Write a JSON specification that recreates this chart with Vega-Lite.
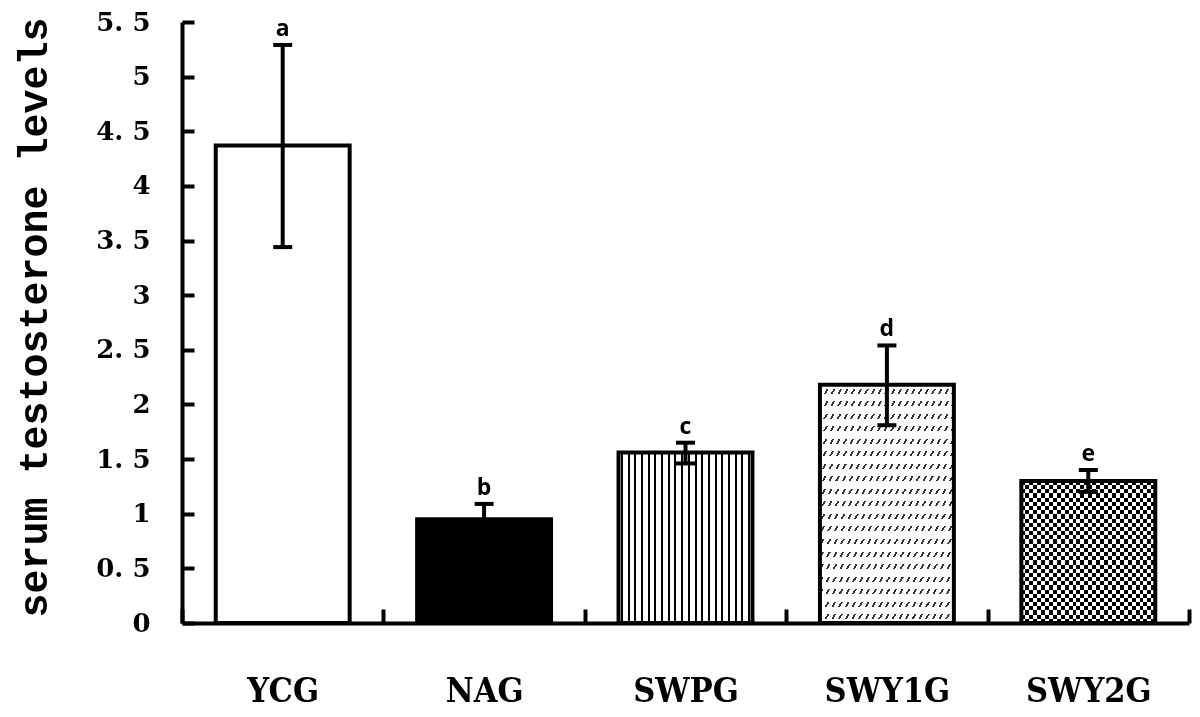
{
  "$schema": "https://vega.github.io/schema/vega-lite/v6.json",
  "width": 1007,
  "height": 601,
  "autosize": "none",
  "padding": {"left": 182, "top": 22, "right": 11, "bottom": 94},
  "background": "#ffffff",
  "config": {"view": {"stroke": null}},
  "data": {"values": [
    {"g": "YCG", "mean": 4.37, "lo": 3.44, "hi": 5.29, "lab": "a"},
    {"g": "NAG", "mean": 0.95, "lo": 0.81, "hi": 1.09, "lab": "b"},
    {"g": "SWPG", "mean": 1.56, "lo": 1.46, "hi": 1.65, "lab": "c"},
    {"g": "SWY1G", "mean": 2.18, "lo": 1.81, "hi": 2.54, "lab": "d"},
    {"g": "SWY2G", "mean": 1.30, "lo": 1.20, "hi": 1.40, "lab": "e"}
  ]},
  "encoding": {
    "x": {
      "field": "g", "type": "nominal", "sort": null,
      "scale": {"paddingInner": 0, "paddingOuter": 0},
      "axis": {
        "title": null, "grid": false, "labelAngle": 0,
        "domainColor": "#000", "domainWidth": 4,
        "tickColor": "#000", "tickWidth": 4, "tickSize": -14, "tickBand": "extent",
        "labelFont": "DejaVu Serif Condensed, Liberation Serif", "labelFontSize": 34, "labelFontWeight": "bold",
        "labelColor": "#000", "labelBaseline": "alphabetic", "labelPadding": 92
      }
    },
    "y": {
      "field": "mean", "type": "quantitative", "title": "serum testosterone levels",
      "scale": {"domain": [0, 5.5], "nice": false, "zero": true},
      "axis": {
        "titleFont": "Liberation Mono", "titleFontSize": 40, "titleFontWeight": "bold", "titleColor": "#000",
        "titleX": -136, "titleY": 295, "titleAngle": -90, "titleAlign": "center", "titleBaseline": "alphabetic",
        "grid": false,
        "values": [0, 0.5, 1, 1.5, 2, 2.5, 3, 3.5, 4, 4.5, 5, 5.5],
        "labelExpr": "replace(toString(datum.value), '.', '. ')",
        "labelFont": "DejaVu Serif", "labelFontSize": 26, "labelFontWeight": "bold", "labelColor": "#000",
        "labelPadding": 44, "labelBaseline": "middle",
        "domainColor": "#000", "domainWidth": 4,
        "tickColor": "#000", "tickWidth": 4, "tickSize": -12
      }
    }
  },
  "layer": [
    {
      "mark": {"type": "bar", "width": {"band": 0.665}},
      "encoding": {
        "fill": {"condition": {"test": "datum.g === 'NAG'", "value": "#000000"}, "value": "#ffffff"}
      }
    },
    {
      "transform": [{"filter": "datum.g === 'SWPG'"}],
      "mark": {"type": "bar", "width": {"band": 0.665}, "fill": {"gradient": "linear", "x1": 0, "y1": 0, "x2": 1, "y2": 0, "stops": [
        {"offset": 0, "color": "#fff"},
        {"offset": 0.0175, "color": "#fff"}, {"offset": 0.0175, "color": "#000"}, {"offset": 0.0325, "color": "#000"}, {"offset": 0.0325, "color": "#fff"},
        {"offset": 0.0675, "color": "#fff"}, {"offset": 0.0675, "color": "#000"}, {"offset": 0.0825, "color": "#000"}, {"offset": 0.0825, "color": "#fff"},
        {"offset": 0.1175, "color": "#fff"}, {"offset": 0.1175, "color": "#000"}, {"offset": 0.1325, "color": "#000"}, {"offset": 0.1325, "color": "#fff"},
        {"offset": 0.1675, "color": "#fff"}, {"offset": 0.1675, "color": "#000"}, {"offset": 0.1825, "color": "#000"}, {"offset": 0.1825, "color": "#fff"},
        {"offset": 0.2175, "color": "#fff"}, {"offset": 0.2175, "color": "#000"}, {"offset": 0.2325, "color": "#000"}, {"offset": 0.2325, "color": "#fff"},
        {"offset": 0.2675, "color": "#fff"}, {"offset": 0.2675, "color": "#000"}, {"offset": 0.2825, "color": "#000"}, {"offset": 0.2825, "color": "#fff"},
        {"offset": 0.3175, "color": "#fff"}, {"offset": 0.3175, "color": "#000"}, {"offset": 0.3325, "color": "#000"}, {"offset": 0.3325, "color": "#fff"},
        {"offset": 0.3675, "color": "#fff"}, {"offset": 0.3675, "color": "#000"}, {"offset": 0.3825, "color": "#000"}, {"offset": 0.3825, "color": "#fff"},
        {"offset": 0.4175, "color": "#fff"}, {"offset": 0.4175, "color": "#000"}, {"offset": 0.4325, "color": "#000"}, {"offset": 0.4325, "color": "#fff"},
        {"offset": 0.4675, "color": "#fff"}, {"offset": 0.4675, "color": "#000"}, {"offset": 0.4825, "color": "#000"}, {"offset": 0.4825, "color": "#fff"},
        {"offset": 0.5175, "color": "#fff"}, {"offset": 0.5175, "color": "#000"}, {"offset": 0.5325, "color": "#000"}, {"offset": 0.5325, "color": "#fff"},
        {"offset": 0.5675, "color": "#fff"}, {"offset": 0.5675, "color": "#000"}, {"offset": 0.5825, "color": "#000"}, {"offset": 0.5825, "color": "#fff"},
        {"offset": 0.6175, "color": "#fff"}, {"offset": 0.6175, "color": "#000"}, {"offset": 0.6325, "color": "#000"}, {"offset": 0.6325, "color": "#fff"},
        {"offset": 0.6675, "color": "#fff"}, {"offset": 0.6675, "color": "#000"}, {"offset": 0.6825, "color": "#000"}, {"offset": 0.6825, "color": "#fff"},
        {"offset": 0.7175, "color": "#fff"}, {"offset": 0.7175, "color": "#000"}, {"offset": 0.7325, "color": "#000"}, {"offset": 0.7325, "color": "#fff"},
        {"offset": 0.7675, "color": "#fff"}, {"offset": 0.7675, "color": "#000"}, {"offset": 0.7825, "color": "#000"}, {"offset": 0.7825, "color": "#fff"},
        {"offset": 0.8175, "color": "#fff"}, {"offset": 0.8175, "color": "#000"}, {"offset": 0.8325, "color": "#000"}, {"offset": 0.8325, "color": "#fff"},
        {"offset": 0.8675, "color": "#fff"}, {"offset": 0.8675, "color": "#000"}, {"offset": 0.8825, "color": "#000"}, {"offset": 0.8825, "color": "#fff"},
        {"offset": 0.9175, "color": "#fff"}, {"offset": 0.9175, "color": "#000"}, {"offset": 0.9325, "color": "#000"}, {"offset": 0.9325, "color": "#fff"},
        {"offset": 0.9675, "color": "#fff"}, {"offset": 0.9675, "color": "#000"}, {"offset": 0.9825, "color": "#000"}, {"offset": 0.9825, "color": "#fff"},
        {"offset": 1, "color": "#fff"}
      ]}},
      "encoding": {}
    },
    {
      "transform": [{"filter": "datum.g === 'SWY1G'"}],
      "mark": {"type": "bar", "width": {"band": 0.665}, "fill": {"gradient": "linear", "x1": 0, "y1": 0, "x2": 1, "y2": 1, "stops": [
        {"offset": 0, "color": "#fff"},
        {"offset": 0.009, "color": "#fff"}, {"offset": 0.009, "color": "#333"}, {"offset": 0.0165, "color": "#333"}, {"offset": 0.0165, "color": "#fff"},
        {"offset": 0.034, "color": "#fff"}, {"offset": 0.034, "color": "#333"}, {"offset": 0.0415, "color": "#333"}, {"offset": 0.0415, "color": "#fff"},
        {"offset": 0.059, "color": "#fff"}, {"offset": 0.059, "color": "#333"}, {"offset": 0.0665, "color": "#333"}, {"offset": 0.0665, "color": "#fff"},
        {"offset": 0.084, "color": "#fff"}, {"offset": 0.084, "color": "#333"}, {"offset": 0.0915, "color": "#333"}, {"offset": 0.0915, "color": "#fff"},
        {"offset": 0.109, "color": "#fff"}, {"offset": 0.109, "color": "#333"}, {"offset": 0.1165, "color": "#333"}, {"offset": 0.1165, "color": "#fff"},
        {"offset": 0.134, "color": "#fff"}, {"offset": 0.134, "color": "#333"}, {"offset": 0.1415, "color": "#333"}, {"offset": 0.1415, "color": "#fff"},
        {"offset": 0.159, "color": "#fff"}, {"offset": 0.159, "color": "#333"}, {"offset": 0.1665, "color": "#333"}, {"offset": 0.1665, "color": "#fff"},
        {"offset": 0.184, "color": "#fff"}, {"offset": 0.184, "color": "#333"}, {"offset": 0.1915, "color": "#333"}, {"offset": 0.1915, "color": "#fff"},
        {"offset": 0.209, "color": "#fff"}, {"offset": 0.209, "color": "#333"}, {"offset": 0.2165, "color": "#333"}, {"offset": 0.2165, "color": "#fff"},
        {"offset": 0.234, "color": "#fff"}, {"offset": 0.234, "color": "#333"}, {"offset": 0.2415, "color": "#333"}, {"offset": 0.2415, "color": "#fff"},
        {"offset": 0.259, "color": "#fff"}, {"offset": 0.259, "color": "#333"}, {"offset": 0.2665, "color": "#333"}, {"offset": 0.2665, "color": "#fff"},
        {"offset": 0.284, "color": "#fff"}, {"offset": 0.284, "color": "#333"}, {"offset": 0.2915, "color": "#333"}, {"offset": 0.2915, "color": "#fff"},
        {"offset": 0.309, "color": "#fff"}, {"offset": 0.309, "color": "#333"}, {"offset": 0.3165, "color": "#333"}, {"offset": 0.3165, "color": "#fff"},
        {"offset": 0.334, "color": "#fff"}, {"offset": 0.334, "color": "#333"}, {"offset": 0.3415, "color": "#333"}, {"offset": 0.3415, "color": "#fff"},
        {"offset": 0.359, "color": "#fff"}, {"offset": 0.359, "color": "#333"}, {"offset": 0.3665, "color": "#333"}, {"offset": 0.3665, "color": "#fff"},
        {"offset": 0.384, "color": "#fff"}, {"offset": 0.384, "color": "#333"}, {"offset": 0.3915, "color": "#333"}, {"offset": 0.3915, "color": "#fff"},
        {"offset": 0.409, "color": "#fff"}, {"offset": 0.409, "color": "#333"}, {"offset": 0.4165, "color": "#333"}, {"offset": 0.4165, "color": "#fff"},
        {"offset": 0.434, "color": "#fff"}, {"offset": 0.434, "color": "#333"}, {"offset": 0.4415, "color": "#333"}, {"offset": 0.4415, "color": "#fff"},
        {"offset": 0.459, "color": "#fff"}, {"offset": 0.459, "color": "#333"}, {"offset": 0.4665, "color": "#333"}, {"offset": 0.4665, "color": "#fff"},
        {"offset": 0.484, "color": "#fff"}, {"offset": 0.484, "color": "#333"}, {"offset": 0.4915, "color": "#333"}, {"offset": 0.4915, "color": "#fff"},
        {"offset": 0.509, "color": "#fff"}, {"offset": 0.509, "color": "#333"}, {"offset": 0.5165, "color": "#333"}, {"offset": 0.5165, "color": "#fff"},
        {"offset": 0.534, "color": "#fff"}, {"offset": 0.534, "color": "#333"}, {"offset": 0.5415, "color": "#333"}, {"offset": 0.5415, "color": "#fff"},
        {"offset": 0.559, "color": "#fff"}, {"offset": 0.559, "color": "#333"}, {"offset": 0.5665, "color": "#333"}, {"offset": 0.5665, "color": "#fff"},
        {"offset": 0.584, "color": "#fff"}, {"offset": 0.584, "color": "#333"}, {"offset": 0.5915, "color": "#333"}, {"offset": 0.5915, "color": "#fff"},
        {"offset": 0.609, "color": "#fff"}, {"offset": 0.609, "color": "#333"}, {"offset": 0.6165, "color": "#333"}, {"offset": 0.6165, "color": "#fff"},
        {"offset": 0.634, "color": "#fff"}, {"offset": 0.634, "color": "#333"}, {"offset": 0.6415, "color": "#333"}, {"offset": 0.6415, "color": "#fff"},
        {"offset": 0.659, "color": "#fff"}, {"offset": 0.659, "color": "#333"}, {"offset": 0.6665, "color": "#333"}, {"offset": 0.6665, "color": "#fff"},
        {"offset": 0.684, "color": "#fff"}, {"offset": 0.684, "color": "#333"}, {"offset": 0.6915, "color": "#333"}, {"offset": 0.6915, "color": "#fff"},
        {"offset": 0.709, "color": "#fff"}, {"offset": 0.709, "color": "#333"}, {"offset": 0.7165, "color": "#333"}, {"offset": 0.7165, "color": "#fff"},
        {"offset": 0.734, "color": "#fff"}, {"offset": 0.734, "color": "#333"}, {"offset": 0.7415, "color": "#333"}, {"offset": 0.7415, "color": "#fff"},
        {"offset": 0.759, "color": "#fff"}, {"offset": 0.759, "color": "#333"}, {"offset": 0.7665, "color": "#333"}, {"offset": 0.7665, "color": "#fff"},
        {"offset": 0.784, "color": "#fff"}, {"offset": 0.784, "color": "#333"}, {"offset": 0.7915, "color": "#333"}, {"offset": 0.7915, "color": "#fff"},
        {"offset": 0.809, "color": "#fff"}, {"offset": 0.809, "color": "#333"}, {"offset": 0.8165, "color": "#333"}, {"offset": 0.8165, "color": "#fff"},
        {"offset": 0.834, "color": "#fff"}, {"offset": 0.834, "color": "#333"}, {"offset": 0.8415, "color": "#333"}, {"offset": 0.8415, "color": "#fff"},
        {"offset": 0.859, "color": "#fff"}, {"offset": 0.859, "color": "#333"}, {"offset": 0.8665, "color": "#333"}, {"offset": 0.8665, "color": "#fff"},
        {"offset": 0.884, "color": "#fff"}, {"offset": 0.884, "color": "#333"}, {"offset": 0.8915, "color": "#333"}, {"offset": 0.8915, "color": "#fff"},
        {"offset": 0.909, "color": "#fff"}, {"offset": 0.909, "color": "#333"}, {"offset": 0.9165, "color": "#333"}, {"offset": 0.9165, "color": "#fff"},
        {"offset": 0.934, "color": "#fff"}, {"offset": 0.934, "color": "#333"}, {"offset": 0.9415, "color": "#333"}, {"offset": 0.9415, "color": "#fff"},
        {"offset": 0.959, "color": "#fff"}, {"offset": 0.959, "color": "#333"}, {"offset": 0.9665, "color": "#333"}, {"offset": 0.9665, "color": "#fff"},
        {"offset": 0.984, "color": "#fff"}, {"offset": 0.984, "color": "#333"}, {"offset": 0.9915, "color": "#333"}, {"offset": 0.9915, "color": "#fff"},
        {"offset": 1, "color": "#fff"}
      ]}},
      "encoding": {}
    },
    {
      "transform": [{"filter": "datum.g === 'SWY1G'"}],
      "mark": {"type": "bar", "width": {"band": 0.665}, "fill": {"gradient": "linear", "x1": 0, "y1": 0, "x2": 0, "y2": 1, "stops": [
        {"offset": 0, "color": "#fff"},
        {"offset": 0.015789, "color": "#fff"}, {"offset": 0.015789, "color": "rgba(255,255,255,0)"}, {"offset": 0.036842, "color": "rgba(255,255,255,0)"}, {"offset": 0.036842, "color": "#fff"},
        {"offset": 0.068421, "color": "#fff"}, {"offset": 0.068421, "color": "rgba(255,255,255,0)"}, {"offset": 0.089474, "color": "rgba(255,255,255,0)"}, {"offset": 0.089474, "color": "#fff"},
        {"offset": 0.121053, "color": "#fff"}, {"offset": 0.121053, "color": "rgba(255,255,255,0)"}, {"offset": 0.142105, "color": "rgba(255,255,255,0)"}, {"offset": 0.142105, "color": "#fff"},
        {"offset": 0.173684, "color": "#fff"}, {"offset": 0.173684, "color": "rgba(255,255,255,0)"}, {"offset": 0.194737, "color": "rgba(255,255,255,0)"}, {"offset": 0.194737, "color": "#fff"},
        {"offset": 0.226316, "color": "#fff"}, {"offset": 0.226316, "color": "rgba(255,255,255,0)"}, {"offset": 0.247368, "color": "rgba(255,255,255,0)"}, {"offset": 0.247368, "color": "#fff"},
        {"offset": 0.278947, "color": "#fff"}, {"offset": 0.278947, "color": "rgba(255,255,255,0)"}, {"offset": 0.3, "color": "rgba(255,255,255,0)"}, {"offset": 0.3, "color": "#fff"},
        {"offset": 0.331579, "color": "#fff"}, {"offset": 0.331579, "color": "rgba(255,255,255,0)"}, {"offset": 0.352632, "color": "rgba(255,255,255,0)"}, {"offset": 0.352632, "color": "#fff"},
        {"offset": 0.384211, "color": "#fff"}, {"offset": 0.384211, "color": "rgba(255,255,255,0)"}, {"offset": 0.405263, "color": "rgba(255,255,255,0)"}, {"offset": 0.405263, "color": "#fff"},
        {"offset": 0.436842, "color": "#fff"}, {"offset": 0.436842, "color": "rgba(255,255,255,0)"}, {"offset": 0.457895, "color": "rgba(255,255,255,0)"}, {"offset": 0.457895, "color": "#fff"},
        {"offset": 0.489474, "color": "#fff"}, {"offset": 0.489474, "color": "rgba(255,255,255,0)"}, {"offset": 0.510526, "color": "rgba(255,255,255,0)"}, {"offset": 0.510526, "color": "#fff"},
        {"offset": 0.542105, "color": "#fff"}, {"offset": 0.542105, "color": "rgba(255,255,255,0)"}, {"offset": 0.563158, "color": "rgba(255,255,255,0)"}, {"offset": 0.563158, "color": "#fff"},
        {"offset": 0.594737, "color": "#fff"}, {"offset": 0.594737, "color": "rgba(255,255,255,0)"}, {"offset": 0.615789, "color": "rgba(255,255,255,0)"}, {"offset": 0.615789, "color": "#fff"},
        {"offset": 0.647368, "color": "#fff"}, {"offset": 0.647368, "color": "rgba(255,255,255,0)"}, {"offset": 0.668421, "color": "rgba(255,255,255,0)"}, {"offset": 0.668421, "color": "#fff"},
        {"offset": 0.7, "color": "#fff"}, {"offset": 0.7, "color": "rgba(255,255,255,0)"}, {"offset": 0.721053, "color": "rgba(255,255,255,0)"}, {"offset": 0.721053, "color": "#fff"},
        {"offset": 0.752632, "color": "#fff"}, {"offset": 0.752632, "color": "rgba(255,255,255,0)"}, {"offset": 0.773684, "color": "rgba(255,255,255,0)"}, {"offset": 0.773684, "color": "#fff"},
        {"offset": 0.805263, "color": "#fff"}, {"offset": 0.805263, "color": "rgba(255,255,255,0)"}, {"offset": 0.826316, "color": "rgba(255,255,255,0)"}, {"offset": 0.826316, "color": "#fff"},
        {"offset": 0.857895, "color": "#fff"}, {"offset": 0.857895, "color": "rgba(255,255,255,0)"}, {"offset": 0.878947, "color": "rgba(255,255,255,0)"}, {"offset": 0.878947, "color": "#fff"},
        {"offset": 0.910526, "color": "#fff"}, {"offset": 0.910526, "color": "rgba(255,255,255,0)"}, {"offset": 0.931579, "color": "rgba(255,255,255,0)"}, {"offset": 0.931579, "color": "#fff"},
        {"offset": 0.963158, "color": "#fff"}, {"offset": 0.963158, "color": "rgba(255,255,255,0)"}, {"offset": 0.984211, "color": "rgba(255,255,255,0)"}, {"offset": 0.984211, "color": "#fff"},
        {"offset": 1, "color": "#fff"}
      ]}},
      "encoding": {}
    },
    {
      "transform": [{"filter": "datum.g === 'SWY2G'"}],
      "mark": {"type": "bar", "width": {"band": 0.665}, "fill": {"gradient": "linear", "x1": 0, "y1": 0, "x2": 1, "y2": 0, "stops": [
        {"offset": 0, "color": "#000"}, {"offset": 0.02941, "color": "#000"}, {"offset": 0.02941, "color": "#fff"}, {"offset": 0.05882, "color": "#fff"},
        {"offset": 0.05882, "color": "#000"}, {"offset": 0.08824, "color": "#000"}, {"offset": 0.08824, "color": "#fff"}, {"offset": 0.11765, "color": "#fff"},
        {"offset": 0.11765, "color": "#000"}, {"offset": 0.14706, "color": "#000"}, {"offset": 0.14706, "color": "#fff"}, {"offset": 0.17647, "color": "#fff"},
        {"offset": 0.17647, "color": "#000"}, {"offset": 0.20588, "color": "#000"}, {"offset": 0.20588, "color": "#fff"}, {"offset": 0.23529, "color": "#fff"},
        {"offset": 0.23529, "color": "#000"}, {"offset": 0.26471, "color": "#000"}, {"offset": 0.26471, "color": "#fff"}, {"offset": 0.29412, "color": "#fff"},
        {"offset": 0.29412, "color": "#000"}, {"offset": 0.32353, "color": "#000"}, {"offset": 0.32353, "color": "#fff"}, {"offset": 0.35294, "color": "#fff"},
        {"offset": 0.35294, "color": "#000"}, {"offset": 0.38235, "color": "#000"}, {"offset": 0.38235, "color": "#fff"}, {"offset": 0.41176, "color": "#fff"},
        {"offset": 0.41176, "color": "#000"}, {"offset": 0.44118, "color": "#000"}, {"offset": 0.44118, "color": "#fff"}, {"offset": 0.47059, "color": "#fff"},
        {"offset": 0.47059, "color": "#000"}, {"offset": 0.5, "color": "#000"}, {"offset": 0.5, "color": "#fff"}, {"offset": 0.52941, "color": "#fff"},
        {"offset": 0.52941, "color": "#000"}, {"offset": 0.55882, "color": "#000"}, {"offset": 0.55882, "color": "#fff"}, {"offset": 0.58824, "color": "#fff"},
        {"offset": 0.58824, "color": "#000"}, {"offset": 0.61765, "color": "#000"}, {"offset": 0.61765, "color": "#fff"}, {"offset": 0.64706, "color": "#fff"},
        {"offset": 0.64706, "color": "#000"}, {"offset": 0.67647, "color": "#000"}, {"offset": 0.67647, "color": "#fff"}, {"offset": 0.70588, "color": "#fff"},
        {"offset": 0.70588, "color": "#000"}, {"offset": 0.73529, "color": "#000"}, {"offset": 0.73529, "color": "#fff"}, {"offset": 0.76471, "color": "#fff"},
        {"offset": 0.76471, "color": "#000"}, {"offset": 0.79412, "color": "#000"}, {"offset": 0.79412, "color": "#fff"}, {"offset": 0.82353, "color": "#fff"},
        {"offset": 0.82353, "color": "#000"}, {"offset": 0.85294, "color": "#000"}, {"offset": 0.85294, "color": "#fff"}, {"offset": 0.88235, "color": "#fff"},
        {"offset": 0.88235, "color": "#000"}, {"offset": 0.91176, "color": "#000"}, {"offset": 0.91176, "color": "#fff"}, {"offset": 0.94118, "color": "#fff"},
        {"offset": 0.94118, "color": "#000"}, {"offset": 0.97059, "color": "#000"}, {"offset": 0.97059, "color": "#fff"}, {"offset": 1, "color": "#fff"}
      ]}},
      "encoding": {}
    },
    {
      "transform": [{"filter": "datum.g === 'SWY2G'"}],
      "mark": {"type": "bar", "width": {"band": 0.665}, "blend": "difference", "fill": {"gradient": "linear", "x1": 0, "y1": 0, "x2": 0, "y2": 1, "stops": [
        {"offset": 0, "color": "#000"}, {"offset": 0.02941, "color": "#000"}, {"offset": 0.02941, "color": "#fff"}, {"offset": 0.05882, "color": "#fff"},
        {"offset": 0.05882, "color": "#000"}, {"offset": 0.08824, "color": "#000"}, {"offset": 0.08824, "color": "#fff"}, {"offset": 0.11765, "color": "#fff"},
        {"offset": 0.11765, "color": "#000"}, {"offset": 0.14706, "color": "#000"}, {"offset": 0.14706, "color": "#fff"}, {"offset": 0.17647, "color": "#fff"},
        {"offset": 0.17647, "color": "#000"}, {"offset": 0.20588, "color": "#000"}, {"offset": 0.20588, "color": "#fff"}, {"offset": 0.23529, "color": "#fff"},
        {"offset": 0.23529, "color": "#000"}, {"offset": 0.26471, "color": "#000"}, {"offset": 0.26471, "color": "#fff"}, {"offset": 0.29412, "color": "#fff"},
        {"offset": 0.29412, "color": "#000"}, {"offset": 0.32353, "color": "#000"}, {"offset": 0.32353, "color": "#fff"}, {"offset": 0.35294, "color": "#fff"},
        {"offset": 0.35294, "color": "#000"}, {"offset": 0.38235, "color": "#000"}, {"offset": 0.38235, "color": "#fff"}, {"offset": 0.41176, "color": "#fff"},
        {"offset": 0.41176, "color": "#000"}, {"offset": 0.44118, "color": "#000"}, {"offset": 0.44118, "color": "#fff"}, {"offset": 0.47059, "color": "#fff"},
        {"offset": 0.47059, "color": "#000"}, {"offset": 0.5, "color": "#000"}, {"offset": 0.5, "color": "#fff"}, {"offset": 0.52941, "color": "#fff"},
        {"offset": 0.52941, "color": "#000"}, {"offset": 0.55882, "color": "#000"}, {"offset": 0.55882, "color": "#fff"}, {"offset": 0.58824, "color": "#fff"},
        {"offset": 0.58824, "color": "#000"}, {"offset": 0.61765, "color": "#000"}, {"offset": 0.61765, "color": "#fff"}, {"offset": 0.64706, "color": "#fff"},
        {"offset": 0.64706, "color": "#000"}, {"offset": 0.67647, "color": "#000"}, {"offset": 0.67647, "color": "#fff"}, {"offset": 0.70588, "color": "#fff"},
        {"offset": 0.70588, "color": "#000"}, {"offset": 0.73529, "color": "#000"}, {"offset": 0.73529, "color": "#fff"}, {"offset": 0.76471, "color": "#fff"},
        {"offset": 0.76471, "color": "#000"}, {"offset": 0.79412, "color": "#000"}, {"offset": 0.79412, "color": "#fff"}, {"offset": 0.82353, "color": "#fff"},
        {"offset": 0.82353, "color": "#000"}, {"offset": 0.85294, "color": "#000"}, {"offset": 0.85294, "color": "#fff"}, {"offset": 0.88235, "color": "#fff"},
        {"offset": 0.88235, "color": "#000"}, {"offset": 0.91176, "color": "#000"}, {"offset": 0.91176, "color": "#fff"}, {"offset": 0.94118, "color": "#fff"},
        {"offset": 0.94118, "color": "#000"}, {"offset": 0.97059, "color": "#000"}, {"offset": 0.97059, "color": "#fff"}, {"offset": 1, "color": "#fff"}
      ]}},
      "encoding": {}
    },
    {
      "mark": {"type": "bar", "width": {"band": 0.665}, "fillOpacity": 0, "stroke": "#000", "strokeWidth": 4},
      "encoding": {}
    },
    {
      "mark": {"type": "rule", "color": "#000", "strokeWidth": 4, "opacity": 1},
      "encoding": {
        "y": {"field": "lo", "type": "quantitative", "title": "serum testosterone levels"},
        "y2": {"field": "hi"}
      }
    },
    {
      "mark": {"type": "tick", "color": "#000", "size": 19, "thickness": 4, "opacity": 1},
      "encoding": {"y": {"field": "hi", "type": "quantitative", "title": "serum testosterone levels"}}
    },
    {
      "mark": {"type": "tick", "color": "#000", "size": 19, "thickness": 4, "opacity": 1},
      "encoding": {"y": {"field": "lo", "type": "quantitative", "title": "serum testosterone levels"}}
    },
    {
      "mark": {"type": "text", "dy": -9, "baseline": "alphabetic", "align": "center", "font": "Open Sans", "fontWeight": "bold", "fontSize": 23, "color": "#000"},
      "encoding": {
        "y": {"field": "hi", "type": "quantitative", "title": "serum testosterone levels"},
        "text": {"field": "lab", "type": "nominal"}
      }
    }
  ]
}
